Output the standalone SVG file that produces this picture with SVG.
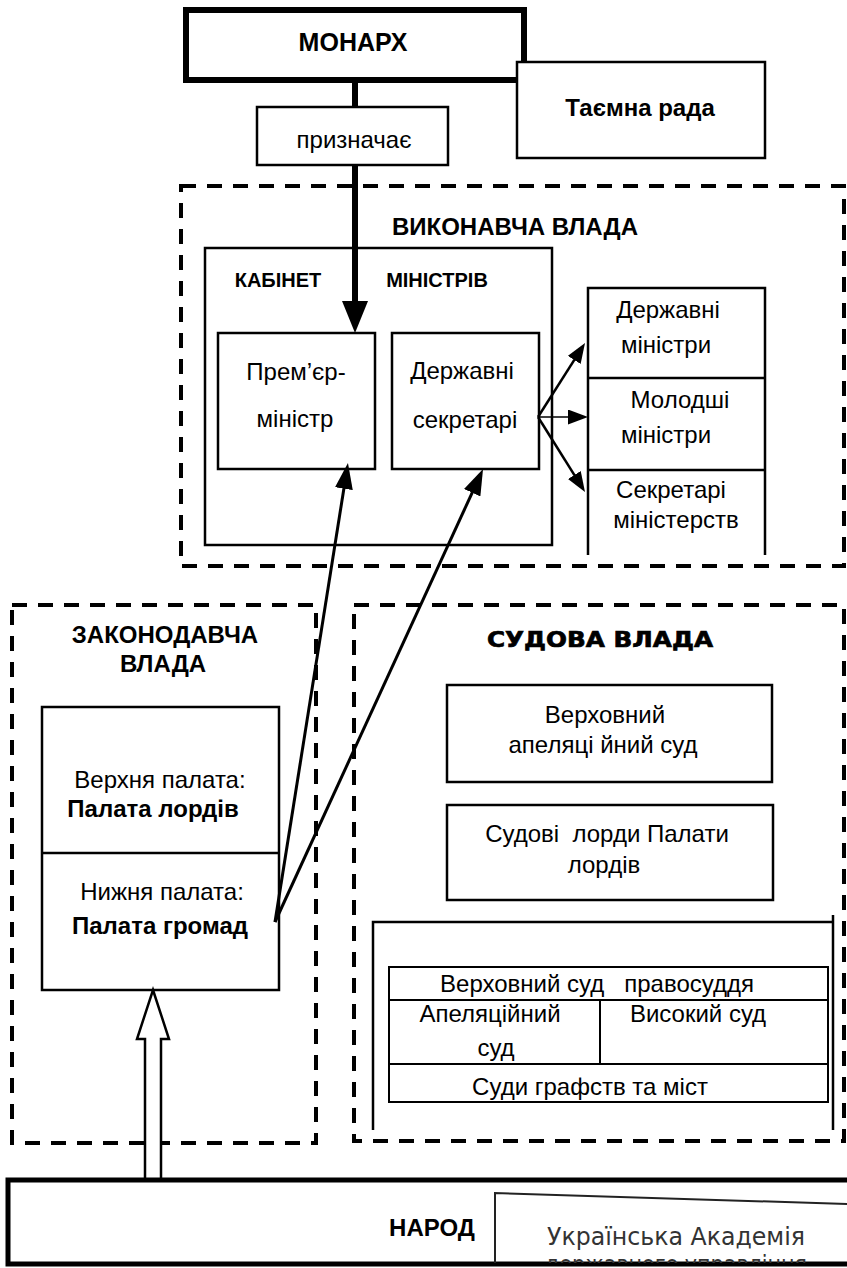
<svg xmlns="http://www.w3.org/2000/svg" width="847" height="1268" viewBox="0 0 847 1268">
<style>
.t{font-family:"Liberation Sans",Arial,sans-serif;font-size:24px;text-anchor:middle;fill:#000}
.b{font-weight:bold}
.box{fill:#fff;stroke:#000;stroke-width:2.5}
.open{fill:none;stroke:#000;stroke-width:2.5}
.dash{fill:none;stroke:#000;stroke-width:4;stroke-dasharray:15 11}
.ln{fill:none;stroke:#000}
.stamp{font-family:"DejaVu Sans",sans-serif;font-size:24px;text-anchor:middle;fill:#333}
</style>
<defs>
<marker id="bigHead" markerUnits="userSpaceOnUse" markerWidth="32" markerHeight="26" refX="19" refY="13" orient="auto"><path d="M0,0 L32,13 L0,26 z" fill="#000"/></marker>
<marker id="midHead" markerUnits="userSpaceOnUse" markerWidth="26" markerHeight="18" refX="18" refY="9" orient="auto"><path d="M0,0 L26,9 L0,18 z" fill="#000"/></marker>
<marker id="smallHead" markerUnits="userSpaceOnUse" markerWidth="20" markerHeight="15" refX="14" refY="7.5" orient="auto"><path d="M0,0 L20,7.5 L0,15 z" fill="#000"/></marker>
<clipPath id="narodClip"><rect x="0" y="1180" width="847" height="83"/></clipPath>
</defs>
<rect width="847" height="1268" fill="#fff"/>

<g id="frame-executive">
<rect class="dash" x="181" y="186" width="663" height="380"/>
<text class="t b" x="515" y="235">ВИКОНАВЧА ВЛАДА</text>
</g>
<g id="frame-legislative">
<rect class="dash" x="12" y="605" width="304" height="538"/>
<text class="t b" x="165" y="643">ЗАКОНОДАВЧА</text>
<text class="t b" x="163" y="672">ВЛАДА</text>
</g>
<g id="frame-judicial">
<rect class="dash" x="354" y="605" width="490" height="536"/>
<text x="600" y="647" style="font-family:'DejaVu Sans',sans-serif;font-weight:bold;font-size:22px;text-anchor:middle;stroke:#000;stroke-width:0.7" textLength="226" lengthAdjust="spacingAndGlyphs">СУДОВА ВЛАДА</text>
</g>

<g id="monarch">
<rect x="186" y="10" width="338" height="70" fill="#fff" stroke="#000" stroke-width="6"/>
<text class="t b" x="353" y="51" style="font-size:25px">МОНАРХ</text>
</g>
<g id="privy-council">
<rect class="box" x="517" y="62" width="248" height="96"/>
<text class="t b" x="640" y="116">Таємна рада</text>
</g>
<g id="appoints">
<rect class="box" x="257" y="107" width="191" height="58"/>
<text class="t" x="354" y="148">призначає</text>
</g>

<g id="cabinet">
<rect class="box" x="205" y="248" width="347" height="297"/>
<text class="t b" x="278" y="287" style="font-size:20px">КАБІНЕТ</text>
<text class="t b" x="437" y="287" style="font-size:20px">МІНІСТРІВ</text>
</g>
<g id="prime-minister">
<rect class="box" x="218" y="333" width="157" height="136"/>
<text class="t" x="296" y="380">Прем’єр-</text>
<text class="t" x="295" y="427">міністр</text>
</g>
<g id="secretaries-of-state">
<rect class="box" x="392" y="333" width="147" height="136"/>
<text class="t" x="462" y="379">Державні</text>
<text class="t" x="465" y="428">секретарі</text>
</g>
<g id="ministers-column">
<path class="open" d="M588,555 V288 H765 V555 M588,378 H765 M588,470 H765"/>
<text class="t" x="668" y="318">Державні</text>
<text class="t" x="666" y="353">міністри</text>
<text class="t" x="680" y="408">Молодші</text>
<text class="t" x="666" y="443">міністри</text>
<text class="t" x="671" y="498">Секретарі</text>
<text class="t" x="676" y="528">міністерств</text>
</g>

<g id="parliament">
<rect class="box" x="42" y="707" width="237" height="283"/>
<line class="ln" x1="42" y1="853" x2="279" y2="853" stroke-width="2.5"/>
<text class="t" x="160" y="788">Верхня палата:</text>
<text class="t b" x="153" y="817">Палата лордів</text>
<text class="t" x="162" y="900">Нижня палата:</text>
<text class="t b" x="160" y="934">Палата громад</text>
</g>

<g id="supreme-appeal-court">
<rect class="box" x="447" y="685" width="325" height="97"/>
<text class="t" x="605" y="723">Верховний</text>
<text class="t" x="603" y="753">апеляці йний суд</text>
</g>
<g id="law-lords">
<rect class="box" x="447" y="805" width="326" height="95"/>
<text class="t" x="607" y="842" xml:space="preserve">Судові  лорди Палати</text>
<text class="t" x="604" y="873">лордів</text>
</g>
<g id="courts-frame">
<path class="open" d="M373,1130 V922 H833 M833,915 V1130"/>
</g>
<g id="courts-table">
<rect x="389" y="967" width="439" height="135" fill="#fff" stroke="#000" stroke-width="2"/>
<path class="ln" stroke-width="2" d="M389,1000 H828 M389,1064 H828 M600,1000 V1064"/>
<text class="t" x="597" y="992" xml:space="preserve">Верховний суд   правосуддя</text>
<text class="t" x="490" y="1022">Апеляційний</text>
<text class="t" x="496" y="1056">суд</text>
<text class="t" x="698" y="1022">Високий суд</text>
<text class="t" x="590" y="1095">Суди графств та міст</text>
</g>

<g id="connectors">
<line class="ln" x1="355" y1="80" x2="355" y2="107" stroke-width="6"/>
<line class="ln" x1="355" y1="165" x2="355" y2="320" stroke-width="6" marker-end="url(#bigHead)"/>
<line class="ln" x1="275" y1="922" x2="346.7" y2="470.9" stroke-width="3" marker-end="url(#midHead)"/>
<line class="ln" x1="275" y1="922" x2="479.7" y2="476.3" stroke-width="3" marker-end="url(#midHead)"/>
<line class="ln" x1="538" y1="417" x2="581.8" y2="348.1" stroke-width="2.5" marker-end="url(#smallHead)"/>
<line class="ln" x1="538" y1="417" x2="582" y2="417" stroke-width="1.5" marker-end="url(#smallHead)"/>
<line class="ln" x1="538" y1="417" x2="581.8" y2="486.9" stroke-width="2.5" marker-end="url(#smallHead)"/>
<polygon points="153,990 169,1039 161,1039 161,1181 145,1181 145,1039 137,1039" fill="#fff" stroke="#000" stroke-width="2.5" stroke-linejoin="miter"/>
</g>

<g id="people">
<rect x="8" y="1180" width="860" height="84" fill="#fff" stroke="#000" stroke-width="5"/>
<text class="t b" x="432" y="1236">НАРОД</text>
</g>
<g id="stamp">
<path d="M495,1263 V1193 L847,1204" fill="none" stroke="#222" stroke-width="2"/>
<g clip-path="url(#narodClip)">
<text class="stamp" x="676" y="1245" textLength="258" lengthAdjust="spacingAndGlyphs">Українська Академія</text>
<text class="stamp" x="676" y="1273" textLength="262" lengthAdjust="spacingAndGlyphs">державного управління</text>
</g>
</g>
</svg>
